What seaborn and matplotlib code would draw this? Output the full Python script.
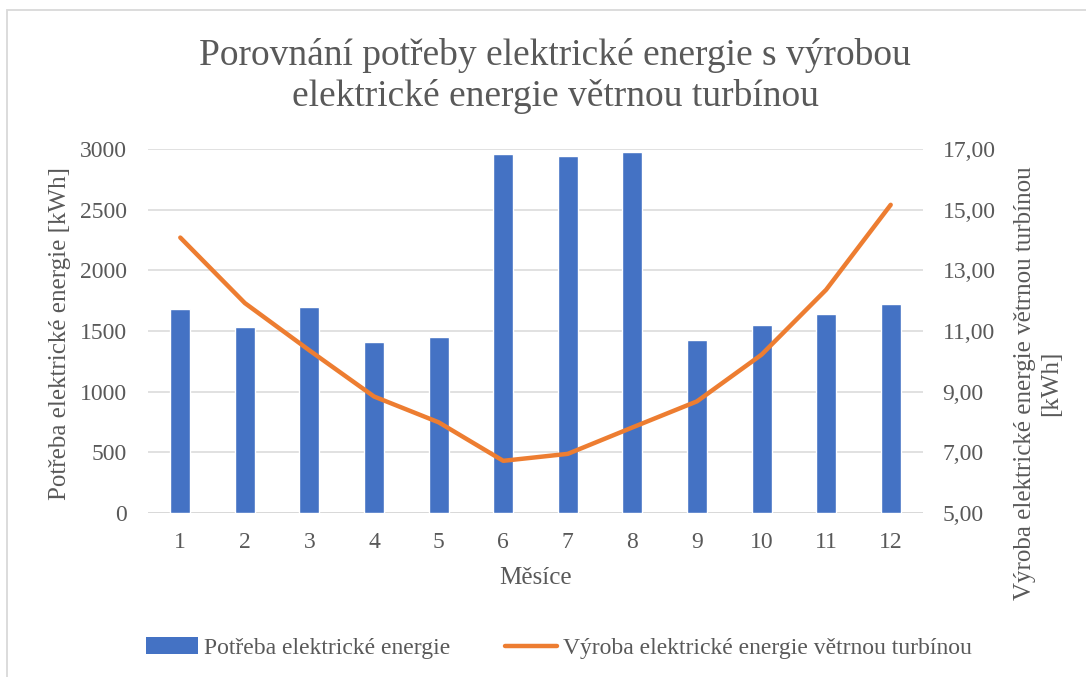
import numpy as np
import pandas as pd
import matplotlib
matplotlib.use("Agg")
import matplotlib.pyplot as plt
import seaborn as sns
from matplotlib.patches import Rectangle, Patch
from matplotlib.lines import Line2D

# data
mesice = ["1", "2", "3", "4", "5", "6", "7", "8", "9", "10", "11", "12"]
potreba = [1683, 1534, 1696, 1411, 1449, 2959, 2945, 2975, 1422, 1551, 1636, 1721]
vyroba = [14.08, 11.92, 10.36, 8.84, 7.99, 6.72, 6.95, 7.82, 8.68, 10.22, 12.36, 15.16]

left_ticks = [0, 500, 1000, 1500, 2000, 2500, 3000]
right_ticks = [5, 7, 9, 11, 13, 15, 17]

df = pd.DataFrame({"mesic": mesice, "potreba": potreba, "vyroba": vyroba})
df["pozice"] = range(len(df))

sns.set_theme(style="white")
plt.rcParams["font.family"] = ["Liberation Serif", "DejaVu Serif"]
text_col = "#595959"
grid_col = "#D9D9D9"
blue = "#4472C4"
orange = "#ED7D31"

W, H = 1086, 677
fig = plt.figure(figsize=(W / 100, H / 100), dpi=100)
fig.patch.set_facecolor("white")

# chart border (cut off at right and bottom in the reference)
fig.patches.append(Rectangle((7 / W, -0.05), 1.2, 1 - 10 / H + 0.05, transform=fig.transFigure,
                             fill=False, edgecolor=grid_col, linewidth=1.3))

ax = fig.add_axes([148 / W, (H - 513) / H, 775 / W, 364 / H])
ax2 = ax.twinx()

sns.barplot(data=df, x="mesic", y="potreba", color=blue, saturation=1, width=0.31,
            ax=ax, legend=False, zorder=2)
sns.lineplot(data=df, x="pozice", y="vyroba", color=orange, linewidth=3.2, ax=ax2,
             legend=False)

ax.set_xlim(-0.5, 11.5)
ax.set_ylim(0, 3000)
ax.set_yticks(left_ticks)
ax.set_yticklabels([str(t) for t in left_ticks])
ax2.set_ylim(5, 17)
ax2.set_yticks(right_ticks)
ax2.set_yticklabels([f"{t:.2f}".replace(".", ",") for t in right_ticks])

ax.yaxis.grid(True, color=grid_col, linewidth=1.1, zorder=0)
ax.set_axisbelow(True)
for a in (ax, ax2):
    for s in a.spines.values():
        s.set_visible(False)
ax.axhline(0, color=grid_col, linewidth=1.3, zorder=1)

ax.tick_params(axis="x", length=0, pad=14, labelsize=17, labelcolor=text_col)
ax.tick_params(axis="y", length=0, pad=15, labelsize=17, labelcolor=text_col)
ax2.tick_params(axis="y", length=0, pad=14, labelsize=17, labelcolor=text_col)

ax.set_xlabel("Měsíce", fontsize=18, color=text_col, labelpad=10)
ax.set_ylabel("Potřeba elektrické energie [kWh]", fontsize=18, color=text_col)
ax.yaxis.label.set_ha("center")
ax.yaxis.label.set_va("center")
ax.yaxis.set_label_coords((60 - 148) / 775, (513 - 334) / 364)
ax2.set_ylabel("Výroba elektrické energie větrnou turbínou\n[kWh]", fontsize=18,
               color=text_col, multialignment="center")
ax2.yaxis.label.set_ha("center")
ax2.yaxis.label.set_va("center")
ax2.yaxis.set_label_coords((1038 - 148) / 775, (513 - 383) / 364)

fig.text(555 / W, 1 - 76 / H,
         "Porovnání potřeby elektrické energie s výrobou\nelektrické energie větrnou turbínou",
         ha="center", va="center", fontsize=27, color=text_col, linespacing=1.2)

handles = [Patch(facecolor=blue, edgecolor="none"),
           Line2D([], [], color=orange, linewidth=3.2)]
labels = ["Potřeba elektrické energie", "Výroba elektrické energie větrnou turbínou"]
fig.legend(handles, labels, loc="center", bbox_to_anchor=(559 / W, 1 - 648 / H),
           ncol=2, frameon=False, fontsize=17, labelcolor=text_col,
           handlelength=2.2, handleheight=0.7, handletextpad=0.25, columnspacing=2.3)

fig.savefig("out.png", dpi=100, facecolor="white")
